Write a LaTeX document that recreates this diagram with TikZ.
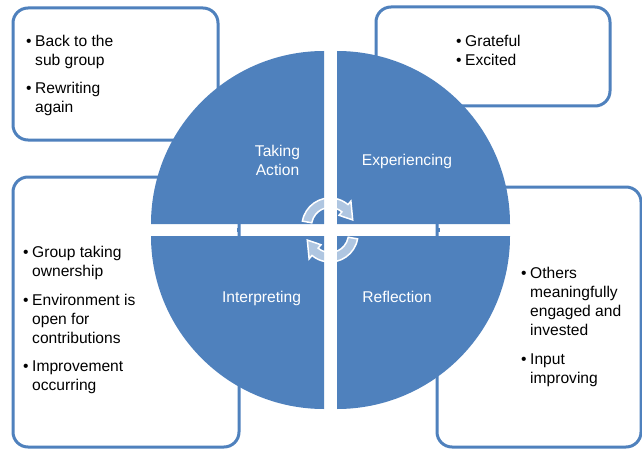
\documentclass[tikz,border=0pt]{standalone}
\usepackage{fontspec}
\setmainfont{Liberation Sans}
\definecolor{cycblue}{HTML}{4F81BD}
\newcommand{\blt}{\llap{\textbullet\hspace{3.5pt}}}
\newcommand{\lines}[1]{\begin{tabular}[t]{@{}l@{}}#1\end{tabular}}
\newcommand{\clines}[1]{\begin{tabular}[t]{@{}c@{}}#1\end{tabular}}

\tikzset{
  notebox/.style={draw=cycblue, line width=3pt, fill=white, rounded corners=15pt},
  quarter/.style={fill=cycblue},
  notetext/.style={anchor=base west, inner sep=0pt, font={\fontsize{15.6}{19}\selectfont}},
  phase/.style={anchor=base, inner sep=0pt, text=white, font={\fontsize{15.6}{18}\selectfont}},
  cyclearrow/.style={draw=white, line width=1.5pt, fill=white, fill opacity=0.55}
}

\begin{document}
\begin{tikzpicture}[x=1pt, y=1pt]

    \useasboundingbox (0,0) rectangle (642,448);
    \fill[white] (0,0) rectangle (642,448);

    % note boxes behind the circle
    \draw[notebox] (13,308) rectangle (218,440);
    \draw[notebox] (376,342) rectangle (610,441);
    \draw[notebox] (13,1) rectangle (239,271);
    \draw[notebox] (437,1) rectangle (641,261);

    % the four quarters
    \fill[quarter] (324,224) -- (151,224) arc[start angle=180, end angle=90, radius=173] -- cycle;
    \fill[quarter] (337,224) -- (337,397) arc[start angle=90, end angle=0, radius=173] -- cycle;
    \fill[quarter] (324,212) -- (151,212) arc[start angle=180, end angle=270, radius=173] -- cycle;
    \fill[quarter] (337,212) -- (510,212) arc[start angle=0, end angle=-90, radius=173] -- cycle;

    \fill[cycblue] (236.7,215.7) rectangle ++(2.6,4.6);
    \fill[cycblue] (437.7,215.7) rectangle ++(2.4,4.6);

    % cycle arrows in the middle
    \foreach \cy/\rot in {222/0, 214/180} {
      \begin{scope}[shift={(330,\cy)}, rotate=\rot]
        \draw[cyclearrow] (170:28) arc[start angle=170, end angle=50, radius=28]
          -- (50:32.5) -- (15:23.5) -- (50:14) -- (50:18.5)
          arc[start angle=50, end angle=170, radius=18.5] -- cycle;
      \end{scope}
    }

    \node[phase] (taking) at (277.5,291) {\clines{Taking\\Action}};
    \node[phase] (experiencing) at (407,283) {Experiencing};
    \node[phase] (interpreting) at (261.5,146) {Interpreting};
    \node[phase] (reflection) at (397,146) {Reflection};

    \node[notetext] (subgroup) at (35,401.5) {\lines{\blt Back to the\\sub group}};
    \node[notetext] (rewriting) at (35,354) {\lines{\blt Rewriting\\again}};

    \node[notetext] (feelings) at (465,401.3) {\lines{\blt Grateful\\\blt Excited}};

    \node[notetext] (ownership) at (32,191) {\lines{\blt Group taking\\ownership}};
    \node[notetext] (environment) at (32,143) {\lines{\blt Environment is\\open for\\contributions}};
    \node[notetext] (improvement) at (32,77) {\lines{\blt Improvement\\occurring}};

    \node[notetext] (others) at (530,170) {\lines{\blt Others\\meaningfully\\engaged and\\invested}};
    \node[notetext] (input) at (530,84) {\lines{\blt Input\\improving}};

\end{tikzpicture}
\end{document}
